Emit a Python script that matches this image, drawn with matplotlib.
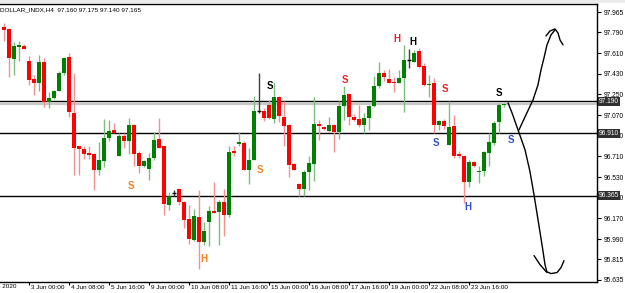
import matplotlib
matplotlib.use("Agg")
import matplotlib.pyplot as plt
import numpy as np
from matplotlib.transforms import ScaledTranslation

# H4 bars, DOLLAR_INDX
opens = [97.840, 97.817, 97.559, 97.666, 97.674, 97.544, 97.382, 97.347, 97.530, 97.182,
         97.222, 97.283, 97.434, 97.574, 97.086, 96.796, 96.776, 96.735, 96.733, 96.594,
         96.666, 96.869, 96.942, 96.716, 96.883, 96.848, 96.985, 96.739, 96.628, 96.602,
         96.695, 96.863, 96.796, 96.289, 96.391, 96.426, 96.313, 96.165, 95.985, 96.179,
         95.961, 96.135, 96.237, 96.226, 96.310, 96.202, 96.759, 96.817, 96.826, 96.594,
         96.681, 97.107, 97.101, 97.159, 97.037, 97.231, 97.057, 96.985, 96.646, 96.472,
         96.426, 96.574, 96.646, 96.991, 96.970, 96.935, 96.985, 96.918, 97.150, 97.254,
         97.057, 97.037, 96.985, 97.043, 97.150, 97.327, 97.434, 97.385, 97.359, 97.347,
         97.391, 97.550, 97.535, 97.631, 97.501, 97.330, 97.347, 96.985, 97.014, 96.811,
         96.976, 96.730, 96.710, 96.483, 96.657, 96.574, 96.579, 96.739, 96.826, 97.005,
         97.160]
highs = [97.875, 97.825, 97.707, 97.718, 97.689, 97.585, 97.420, 97.594, 97.565, 97.274,
         97.289, 97.454, 97.579, 97.608, 97.434, 96.802, 96.802, 96.796, 96.741, 96.837,
         97.034, 97.028, 97.000, 96.913, 96.913, 97.043, 96.988, 96.753, 96.675, 96.739,
         96.922, 97.043, 96.800, 96.402, 96.414, 96.434, 96.318, 96.289, 96.252, 96.420,
         96.135, 96.275, 96.487, 96.333, 96.426, 96.796, 96.802, 96.922, 96.840, 96.782,
         97.237, 97.440, 97.130, 97.202, 97.356, 97.237, 97.188, 96.988, 96.655, 96.478,
         96.594, 96.710, 97.226, 97.028, 96.976, 97.052, 96.994, 97.188, 97.327, 97.266,
         97.081, 97.159, 97.087, 97.159, 97.411, 97.535, 97.463, 97.469, 97.405, 97.463,
         97.681, 97.643, 97.637, 97.652, 97.521, 97.420, 97.391, 97.028, 97.037, 97.188,
         97.072, 96.753, 96.713, 96.675, 96.666, 96.623, 96.753, 96.913, 97.014, 97.174,
         97.175]
lows = [97.718, 97.399, 97.420, 97.544, 97.645, 97.333, 97.246, 97.283, 97.144, 97.135,
        97.208, 97.281, 97.420, 97.057, 96.550, 96.544, 96.689, 96.689, 96.420, 96.550,
        96.614, 96.848, 96.910, 96.713, 96.782, 96.733, 96.623, 96.565, 96.620, 96.507,
        96.681, 96.785, 96.196, 96.246, 96.368, 96.289, 96.087, 95.950, 95.970, 95.730,
        95.941, 95.927, 96.215, 95.935, 96.020, 96.179, 96.710, 96.796, 96.590, 96.472,
        96.678, 97.087, 97.014, 97.037, 97.000, 97.005, 96.796, 96.530, 96.588, 96.368,
        96.368, 96.420, 96.492, 96.855, 96.942, 96.918, 96.744, 96.861, 97.028, 96.985,
        97.014, 96.970, 96.913, 96.942, 97.139, 97.304, 97.370, 97.345, 97.274, 97.345,
        97.092, 97.478, 97.533, 97.478, 97.324, 97.226, 96.913, 96.942, 96.948, 96.808,
        96.695, 96.695, 96.304, 96.440, 96.620, 96.478, 96.542, 96.623, 96.811, 96.913,
        97.140]
closes = [97.811, 97.565, 97.672, 97.681, 97.648, 97.376, 97.347, 97.530, 97.182, 97.222,
          97.281, 97.434, 97.570, 97.092, 96.787, 96.773, 96.730, 96.724, 96.594, 96.675,
          96.869, 96.933, 96.913, 96.883, 96.848, 96.985, 96.733, 96.623, 96.666, 96.695,
          96.855, 96.787, 96.298, 96.361, 96.391, 96.310, 96.153, 95.991, 96.188, 95.961,
          96.057, 96.237, 96.217, 96.310, 96.196, 96.748, 96.739, 96.831, 96.594, 96.681,
          97.107, 97.107, 97.043, 97.043, 97.226, 97.063, 96.976, 96.637, 96.594, 96.426,
          96.574, 96.652, 96.994, 96.976, 96.948, 96.985, 96.918, 97.150, 97.246, 97.052,
          97.028, 96.985, 97.043, 97.150, 97.327, 97.434, 97.405, 97.347, 97.353, 97.396,
          97.550, 97.550, 97.614, 97.492, 97.333, 97.339, 96.985, 97.014, 96.976, 96.965,
          96.716, 96.710, 96.483, 96.661, 96.623, 96.585, 96.744, 96.831, 96.999, 97.159,
          97.165]

price_ticks = [97.965, 97.790, 97.610, 97.430, 97.250, 97.070, 96.890, 96.710,
               96.530, 96.350, 96.170, 95.990, 95.815, 95.635]
time_tick_bars = [5, 13, 21, 29, 37, 45, 53, 61, 69, 77, 85, 93]
time_tick_labels = ["3 Jun 00:00", "4 Jun 08:00", "5 Jun 16:00", "9 Jun 00:00",
                    "10 Jun 08:00", "11 Jun 16:00", "15 Jun 00:00", "16 Jun 08:00",
                    "17 Jun 16:00", "19 Jun 00:00", "22 Jun 08:00", "23 Jun 16:00"]

level_lines = [97.190, 96.910, 96.365]
bid_price = 97.165

# S / H marks: (bar, price, letter, colour)
marks = [(25.3, 96.455, "S", "#f58220"), (51.2, 96.594, "S", "#f58220"),
         (40.0, 95.817, "H", "#f58220"), (53.2, 97.324, "S", "black"),
         (68.2, 97.376, "S", "#f02020"), (78.5, 97.733, "H", "#f02020"),
         (81.7, 97.704, "H", "black"), (88.2, 97.298, "S", "#f02020"),
         (86.4, 96.826, "S", "#3050d0"), (92.7, 96.266, "H", "#3050d0"),
         (98.9, 97.266, "S", "black"), (101.4, 96.849, "S", "#3050d0")]

# hand drawn arrows (bar, price)
down_x = [100.8, 101.6, 102.8, 104.2, 105.2, 106.0, 106.8, 107.6, 108.2, 108.6]
down_y = [97.176, 97.089, 96.941, 96.768, 96.576, 96.376, 96.159, 95.941, 95.767, 95.698]
cup_x = [106.0, 107.2, 108.4, 109.4, 110.6, 111.4, 112.0]
cup_y = [95.846, 95.767, 95.707, 95.689, 95.698, 95.741, 95.802]
up_x = [103.0, 104.4, 105.8, 106.8, 107.4, 108.0, 108.6, 109.4, 110.2]
up_y = [96.941, 97.072, 97.202, 97.333, 97.463, 97.568, 97.681, 97.768, 97.811]
cap_x = [108.4, 109.2, 110.2, 110.8, 111.2, 111.8]
cap_y = [97.759, 97.802, 97.820, 97.785, 97.724, 97.681]

FONT = "Liberation Sans"

fig = plt.figure(figsize=(6.25, 2.93), dpi=100)
ax = fig.add_axes([0, 11.5 / 293, 597 / 625, 277.5 / 293])

o = np.array(opens); h = np.array(highs); l = np.array(lows); c = np.array(closes)
x = np.arange(len(o))
up = c > o
dn = c < o
dj = c == o

ax.vlines(x[up], l[up], h[up], color="#7cbf7c", lw=1.0, zorder=2)
ax.vlines(x[dn], l[dn], h[dn], color="#f59090", lw=1.0, zorder=2)
ax.vlines(x[dj], l[dj], h[dj], color="#404040", lw=1.0, zorder=2)

bottom = np.minimum(o, c)
height = np.maximum(np.abs(c - o), 0.006)
ax.bar(x[up], height[up], bottom=bottom[up], width=0.62, color="#008000", zorder=3)
ax.bar(x[dn], height[dn], bottom=bottom[dn], width=0.62, color="#ff0000", zorder=3)
ax.hlines(o[dj], x[dj] - 0.4, x[dj] + 0.4, color="black", lw=1.0, zorder=3)

for lv in level_lines:
    ax.axhline(lv, color="black", lw=1.0, zorder=1)
ax.axhline(bid_price, color="#c8c8c8", lw=1.6, zorder=0.5)

for bx, py, s, col in marks:
    ax.text(bx, py, s, color=col, fontsize=7, fontweight="bold", family=FONT,
            ha="center", va="center", zorder=5)

for xs, ys in [(down_x, down_y), (cup_x, cup_y), (up_x, up_y), (cap_x, cap_y)]:
    ax.plot(xs, ys, color="black", lw=1.0, zorder=6, solid_capstyle="round")

ax.set_xlim(-0.8, 118.6)
ax.set_ylim(95.620, 98.037)

ax.yaxis.tick_right()
ax.set_yticks(price_ticks)
ax.set_yticklabels([f"{p:.3f}" for p in price_ticks], fontsize=4.8, family=FONT)
ax.tick_params(axis="y", length=3, width=0.8, pad=1.5)

ax.set_xticks(time_tick_bars)
ax.set_xticklabels(time_tick_labels, fontsize=4.6, family=FONT)
ax.tick_params(axis="x", length=2.5, width=0.8, pad=0.3)
shift = ScaledTranslation(2 / 100, 0, fig.dpi_scale_trans)
for lab in ax.get_xticklabels():
    lab.set_ha("left")
    lab.set_transform(lab.get_transform() + shift)
ax.text(2.4, -0.01, "2 Jun 2020", transform=ax.get_xaxis_transform(),
        fontsize=4.6, family=FONT, ha="right", va="top", clip_on=False)

ax.spines["left"].set_visible(False)
for side in ["top", "right", "bottom"]:
    ax.spines[side].set_linewidth(1.0)

# price boxes for the levels
for lv in level_lines:
    ax.text(1.003, lv, f"{lv:.3f}", transform=ax.get_yaxis_transform(),
            fontsize=4.8, family=FONT, color="white", ha="left", va="center",
            bbox=dict(boxstyle="square,pad=0.15", fc="#303030", ec="none"), zorder=7,
            clip_on=False)

fig.text(0.0, 1 - 10 / 293, "DOLLAR_INDX,H4  97.160 97.175 97.140 97.165",
         fontsize=4.6, family=FONT, ha="left", va="center")
fig.patches.append(plt.Rectangle((0, 1 - 3 / 293), 1, 3 / 293, transform=fig.transFigure,
                                 fc="#ececec", ec="none"))

fig.savefig("out.png", dpi=100)
